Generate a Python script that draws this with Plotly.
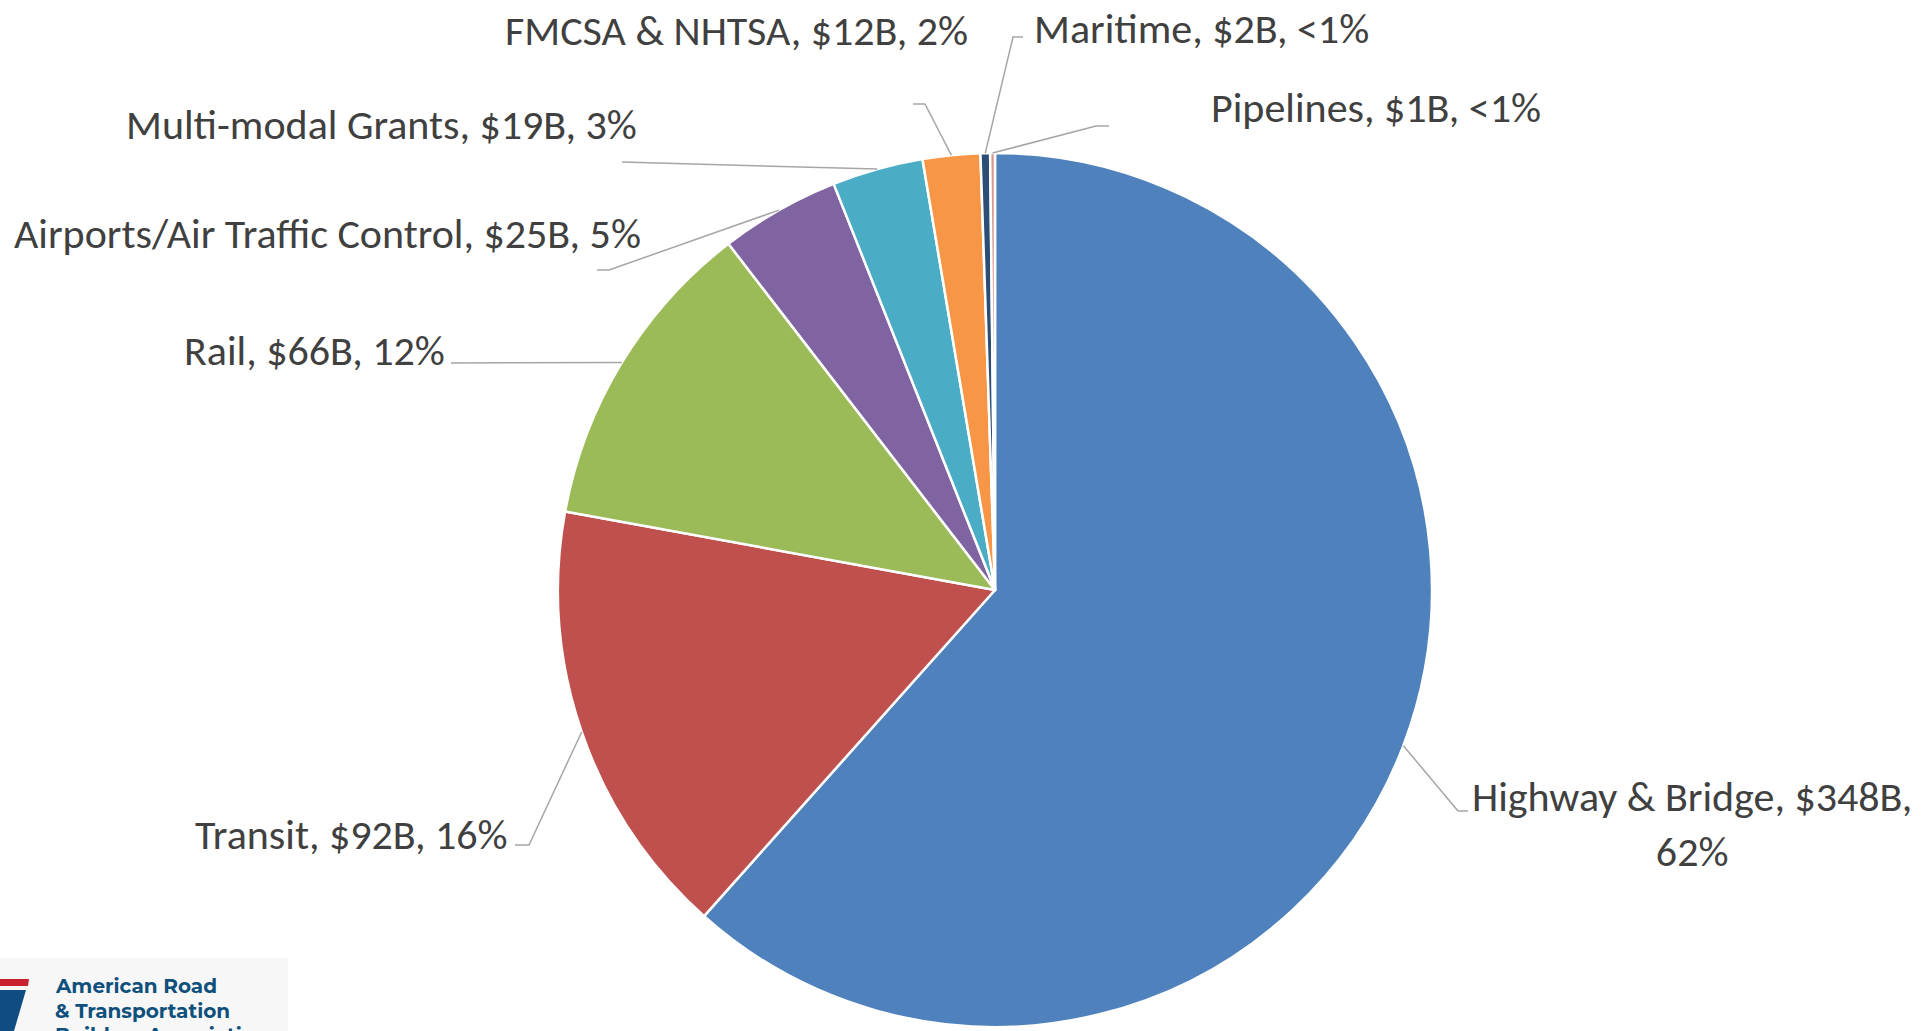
import math
import plotly.graph_objects as go

# ---------------- data ----------------
categories = ["Highway & Bridge", "Transit", "Rail", "Airports/Air Traffic Control",
              "Multi-modal Grants", "FMCSA & NHTSA", "Maritime", "Pipelines"]
values_bn = [348, 92, 66, 25, 19, 12, 2, 1]
pct_labels = ["62%", "16%", "12%", "5%", "3%", "2%", "<1%", "<1%"]

# ---------------- styles ----------------
colors = ["#4F81BD", "#C0504D", "#9BBB59", "#8064A2", "#4BACC6", "#F79646", "#2C4D75", "#D99694"]
W, H = 1921, 1031
CX, CY, R = 995, 590, 437          # pie centre / radius in pixels
FONT = "Carlito, Calibri, Lato, sans-serif"
FS = 42
TXT = "#404040"
LINE = "#A6A6A6"

# label layout (pixels): elbow, end of leader, text anchor
label_layout = [
    dict(elbow=(1458, 811), end=(1468, 811), text=(1692, 824), xanchor="center", br=True),
    dict(elbow=(529, 845), end=(515, 845), text=(510, 834), xanchor="right"),
    dict(elbow=(451, 363), end=(451, 363), text=(447, 350), xanchor="right"),
    dict(elbow=(609, 270), end=(597, 270), text=(643, 233), xanchor="right"),
    dict(elbow=(622, 162), end=(622, 162), text=(639, 125), xanchor="right"),
    dict(elbow=(925, 104), end=(913, 104), text=(970, 30), xanchor="right"),
    dict(elbow=(1013, 37), end=(1023, 37), text=(1032, 29), xanchor="left"),
    dict(elbow=(1096, 126), end=(1109, 126), text=(1209, 108), xanchor="left"),
]

def px(x):
    return x / W

def py(y):
    return 1 - y / H

fig = go.Figure(go.Pie(
    labels=categories, values=values_bn, sort=False, direction="clockwise", rotation=0,
    textinfo="none", hoverinfo="label+value+percent",
    marker=dict(colors=colors, line=dict(color="white", width=2.5)),
    domain=dict(x=[px(CX - R), px(CX + R)], y=[py(CY + R), py(CY - R)]),
    showlegend=False,
))

total = sum(values_bn)
cum = 0.0
shapes = []
annotations = []
for name, v, pct, lay in zip(categories, values_bn, pct_labels, label_layout):
    mid = (cum + v / 2) / total * 2 * math.pi
    cum += v
    ax = CX + R * math.sin(mid)
    ay = CY - R * math.cos(mid)
    (ex, ey), (fx, fy) = lay["elbow"], lay["end"]
    path = f"M {px(ax)},{py(ay)} L {px(ex)},{py(ey)} L {px(fx)},{py(fy)}"
    shapes.append(dict(type="path", xref="paper", yref="paper", path=path,
                       line=dict(color=LINE, width=1.5)))
    sep = "<br>" if lay.get("br") else " "
    text = f"{name}, ${v}B,{sep}{pct}"
    tx, ty = lay["text"]
    annotations.append(dict(x=px(tx), y=py(ty), xref="paper", yref="paper", text=text,
                            showarrow=False, xanchor=lay["xanchor"], yanchor="middle",
                            align="center", font=dict(family=FONT, size=FS, color=TXT)))

# logo (bottom-left)
shapes.append(dict(type="rect", xref="paper", yref="paper", x0=0, x1=px(288), y0=0, y1=py(958),
                   fillcolor="#F7F7F7", line=dict(width=0), layer="below"))
shapes.append(dict(type="path", xref="paper", yref="paper",
                   path=f"M {px(0)},{py(979)} L {px(29)},{py(979)} L {px(28)},{py(986)} L {px(0)},{py(986)} Z",
                   fillcolor="#C8202F", line=dict(width=0)))
shapes.append(dict(type="path", xref="paper", yref="paper",
                   path=f"M {px(0)},{py(990)} L {px(26)},{py(990)} L {px(14)},{py(1031)} L {px(0)},{py(1031)} Z",
                   fillcolor="#0F4C81", line=dict(width=0)))
for i, t in enumerate(["American Road", "& Transportation", "Builders Association"]):
    annotations.append(dict(x=px(53), y=py(986 + 24.5 * i), xref="paper", yref="paper", text=t,
                            showarrow=False, xanchor="left", yanchor="middle",
                            font=dict(family="Montserrat, 'Open Sans', sans-serif", size=20,
                                      color="#0E4F7C", weight="bold")))

fig.update_layout(width=W, height=H, margin=dict(l=0, r=0, t=0, b=0),
                  paper_bgcolor="white", plot_bgcolor="white",
                  shapes=shapes, annotations=annotations)

fig.write_html("out.html", config=dict(displayModeBar=False),
               post_script="document.body.style.margin='0';document.body.style.overflow='hidden';")
